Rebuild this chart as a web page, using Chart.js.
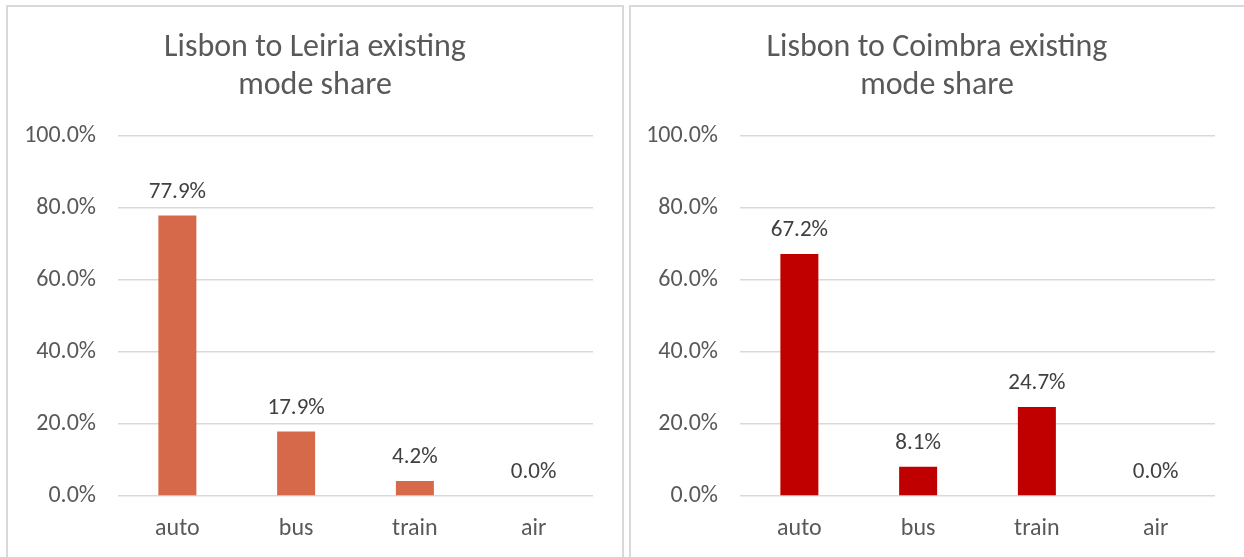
<!DOCTYPE html>
<html><head><meta charset="utf-8">
<script src="https://cdn.jsdelivr.net/npm/chart.js@4/dist/chart.umd.min.js"></script>
<style>
body{margin:0;background:#fff;width:1244px;height:557px;overflow:hidden;position:relative}
.panel{position:absolute;top:5px;height:560px;border:2px solid #d9d9d9;border-bottom:none;box-sizing:border-box}
#p1{left:6px;width:618px}
#p2{left:629px;width:620px;border-right:none}
.cv{position:absolute;top:0;width:622px;height:557px}
</style></head><body>
<div class="panel" id="p1"></div><div class="panel" id="p2"></div>
<div class="cv" style="left:0"><canvas id="c1"></canvas></div>
<div class="cv" style="left:622px"><canvas id="c2"></canvas></div>
<script>
const categories = ['auto', 'bus', 'train', 'air'];
const leiriaShare = [77.9, 17.9, 4.2, 0.0];
const coimbraShare = [67.2, 8.1, 24.7, 0.0];
const leiriaTitle = ['Lisbon to Leiria existing', 'mode share'];
const coimbraTitle = ['Lisbon to Coimbra existing', 'mode share'];
const yMin = 0, yMax = 100, yStep = 20;

const FONT = 'Carlito, Calibri, Lato, sans-serif';
const TXT = '#595959';

const valueLabels = {
  id: 'valueLabels',
  afterDatasetsDraw(chart) {
    const ctx = chart.ctx;
    ctx.save();
    ctx.font = '23px ' + FONT;
    ctx.fillStyle = '#404040';
    ctx.textAlign = 'center';
    ctx.textBaseline = 'alphabetic';
    chart.data.datasets.forEach((ds, i) => {
      chart.getDatasetMeta(i).data.forEach((bar, j) => {
        ctx.fillText(ds.data[j].toFixed(1) + '%', bar.x, bar.y - 18);
      });
    });
    ctx.restore();
  }
};

function makeChart(id, title, data, color) {
  return new Chart(document.getElementById(id), {
    type: 'bar',
    data: {
      labels: categories,
      datasets: [{ data: data, backgroundColor: color, categoryPercentage: 1, barPercentage: 0.32 }]
    },
    options: {
      responsive: true,
      maintainAspectRatio: false,
      animation: false,
      layout: { padding: { left: 8, right: 0, top: 0, bottom: 0 } },
      plugins: {
        legend: { display: false },
        tooltip: { enabled: false },
        title: {
          display: true, text: title, color: TXT,
          font: { family: FONT, size: 32, weight: 'normal', lineHeight: 38 / 32 },
          padding: { top: 29, bottom: 31 }
        }
      },
      scales: {
        x: {
          grid: { display: false },
          border: { display: false },
          ticks: { color: TXT, font: { family: FONT, size: 24 }, padding: 11 },
          afterFit(s) { s.height = 61; }
        },
        y: {
          min: yMin, max: yMax,
          ticks: { stepSize: yStep, color: TXT, font: { family: FONT, size: 24 }, padding: 22,
                   callback: v => v.toFixed(1) + '%' },
          grid: { color: '#d9d9d9', lineWidth: 1.5, drawTicks: false },
          border: { display: false },
          afterFit(s) { s.width = 110; }
        },
        y2: {
          position: 'right', display: true,
          ticks: { display: false }, grid: { display: false }, border: { display: false },
          afterFit(s) { s.width = 29; }
        }
      }
    },
    plugins: [valueLabels]
  });
}

makeChart('c1', leiriaTitle, leiriaShare, '#D5694A');
makeChart('c2', coimbraTitle, coimbraShare, '#C00000');
</script>
</body></html>
